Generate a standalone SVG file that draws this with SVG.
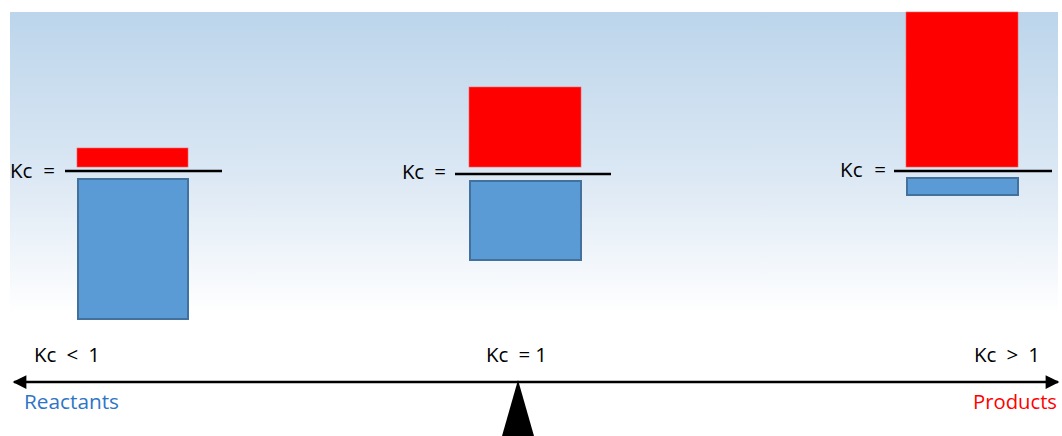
<svg xmlns="http://www.w3.org/2000/svg" width="1062" height="436" viewBox="0 0 1062 436">
<defs>
<linearGradient id="bg" x1="0" y1="0" x2="0" y2="1">
<stop offset="0" stop-color="#bcd5eb"/>
<stop offset="0.55" stop-color="#dce8f4"/>
<stop offset="1" stop-color="#ffffff"/>
</linearGradient>
<marker id="ah" viewBox="0 0 10 10" refX="9" refY="5" markerWidth="7" markerHeight="5.5" markerUnits="strokeWidth" orient="auto-start-reverse">
<path d="M0,0 L10,5 L0,10 z" fill="#000"/>
</marker>
<style>
.red{fill:#ff0000;stroke:#f06060;stroke-width:0.6}
.blue{fill:#5b9bd5;stroke:#41719c;stroke-width:2}
.bar{stroke:#000;stroke-width:2.5}
.t{font-family:"Open Sans","Liberation Sans",sans-serif;font-size:20.5px;font-weight:500;fill:#000;white-space:pre}
</style>
</defs>
<rect x="0" y="0" width="1062" height="436" fill="#fff"/>
<rect x="10" y="12" width="1048" height="302" fill="url(#bg)"/>
<g id="left">
<text class="t" x="10" y="178" textLength="45" lengthAdjust="spacing">Kc  =</text>
<rect class="red" x="77" y="148" width="111" height="19"/>
<line class="bar" x1="65" y1="171" x2="222" y2="171"/>
<rect class="blue" x="78" y="179" width="110" height="140"/>
</g>
<g id="middle">
<text class="t" x="402" y="179" textLength="44" lengthAdjust="spacing">Kc  =</text>
<rect class="red" x="469" y="87" width="112" height="80"/>
<line class="bar" x1="455" y1="174" x2="611" y2="174"/>
<rect class="blue" x="470" y="181" width="111" height="79"/>
</g>
<g id="right">
<text class="t" x="840" y="177" textLength="46" lengthAdjust="spacing">Kc  =</text>
<rect class="red" x="906" y="12" width="112" height="155"/>
<line class="bar" x1="894" y1="171" x2="1052" y2="171"/>
<rect class="blue" x="907" y="178" width="111" height="17"/>
</g>
<g id="labels">
<text class="t" x="34" y="362" textLength="66" lengthAdjust="spacing">Kc  &lt;  1</text>
<text class="t" x="486" y="362" textLength="61" lengthAdjust="spacing">Kc  = 1</text>
<text class="t" x="974" y="362" textLength="66" lengthAdjust="spacing">Kc  &gt;  1</text>
<text class="t" x="24" y="409" textLength="95" lengthAdjust="spacingAndGlyphs" style="fill:#2e75c6">Reactants</text>
<text class="t" x="973" y="409" textLength="84" lengthAdjust="spacingAndGlyphs" style="fill:#ff0000">Products</text>
</g>
<g id="connectors">
<line x1="14" y1="382" x2="1058" y2="382" stroke="#000" stroke-width="2.5" marker-start="url(#ah)" marker-end="url(#ah)"/>
</g>
<g id="fulcrum">
<polygon points="518,380 502,436 534,436" fill="#000"/>
</g>
</svg>
